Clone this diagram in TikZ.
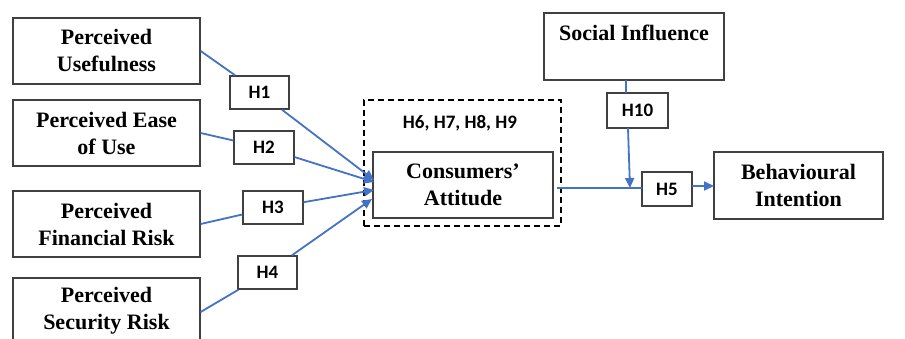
\documentclass[tikz,border=0pt]{standalone}
\usepackage{fontspec}
\setmainfont{Liberation Serif}
\newfontfamily\hfont{Carlito}
\usetikzlibrary{arrows.meta}
\definecolor{lblue}{HTML}{4472C4}
\definecolor{bgray}{HTML}{404040}
\tikzset{
  cbox/.style={draw=bgray, line width=1.3pt, fill=white, align=center, inner sep=0pt,
    font=\fontsize{22}{27}\selectfont\bfseries},
  hbox/.style={draw=bgray, line width=1.3pt, fill=white, inner sep=0pt,
    font=\hfont\fontsize{19}{21}\selectfont\bfseries},
  link/.style={draw=lblue, line width=1.8pt},
  arr/.style={link, -{Triangle[length=10pt,width=9pt]}}
}
\begin{document}
\begin{tikzpicture}[x=1pt,y=-1pt]
\useasboundingbox (0,0) rectangle (905,339);
\clip (0,0) rectangle (905,339);
% constructs
\node[cbox, minimum width=187pt, minimum height=66pt] (pu) at (106.5,51) {Perceived\\Usefulness};
\node[cbox, minimum width=187pt, minimum height=66pt] (pe) at (106.5,133) {Perceived Ease\\of Use};
\node[cbox, minimum width=187pt, minimum height=66pt] (pf) at (106.5,224) {Perceived\\Financial Risk};
\node[cbox, minimum width=187pt, minimum height=66pt] (ps) at (106.5,311) {Perceived\\Security Risk};
\node[draw=black, line width=1.5pt, dash pattern=on 6pt off 4pt, minimum width=197pt, minimum height=126pt, inner sep=0pt] (grp) at (462.5,163) {};
\node[hbox, draw=none, fill=none] (h69) at (460,123) {H6, H7, H8, H9};
\node[cbox, minimum width=180pt, minimum height=66pt] (ca) at (463,185) {Consumers’\\Attitude};
\node[cbox, minimum width=180pt, minimum height=67pt] (si) at (634,46.5) {Social Influence\\\mbox{}};
\node[cbox, minimum width=169pt, minimum height=67pt] (bi) at (798.5,185.5) {Behavioural\\Intention};
% hypothesis labels
\node[hbox, minimum width=59pt, minimum height=33pt] (h1) at (259.5,92.5) {H1};
\node[hbox, minimum width=60pt, minimum height=33pt] (h2) at (264,147.5) {H2};
\node[hbox, minimum width=60pt, minimum height=33pt] (h3) at (273,207.5) {H3};
\node[hbox, minimum width=59pt, minimum height=33pt] (h4) at (267.5,272.5) {H4};
\node[hbox, minimum width=61pt, minimum height=35pt] (h10) at (637.5,110.5) {H10};
\node[hbox, minimum width=50pt, minimum height=34pt] (h5) at (667,189) {H5};
% end points
\coordinate (a1) at (374,180);
\coordinate (a2) at (374,182);
\coordinate (a3) at (374,190);
\coordinate (a4) at (372,199);
\coordinate (cao) at (557,188);
\coordinate (h5i) at (642,188);
\coordinate (h5o) at (692,186);
\coordinate (bii) at (714,186);
\coordinate (sio) at (626,80);
\coordinate (h10i) at (626,93);
\coordinate (h10o) at (628,128);
\coordinate (mod) at (630,188);
% connectors
\path[link] (pu.east) -- (h1);
\path[arr] (h1) -- (a1);
\path[link] (pe.east) -- (h2);
\path[arr] (h2) -- (a2);
\path[link] (pf.east) -- (h3);
\path[arr] (h3) -- (a3);
\path[link] ([yshift=-1pt]ps.east) -- (h4);
\path[arr] (h4) -- (a4);
\path[link] (cao) -- (h5i);
\path[arr] (h5o) -- (bii);
\path[link] (sio) -- (h10i);
\path[arr] (h10o) -- (mod);
\end{tikzpicture}
\end{document}
